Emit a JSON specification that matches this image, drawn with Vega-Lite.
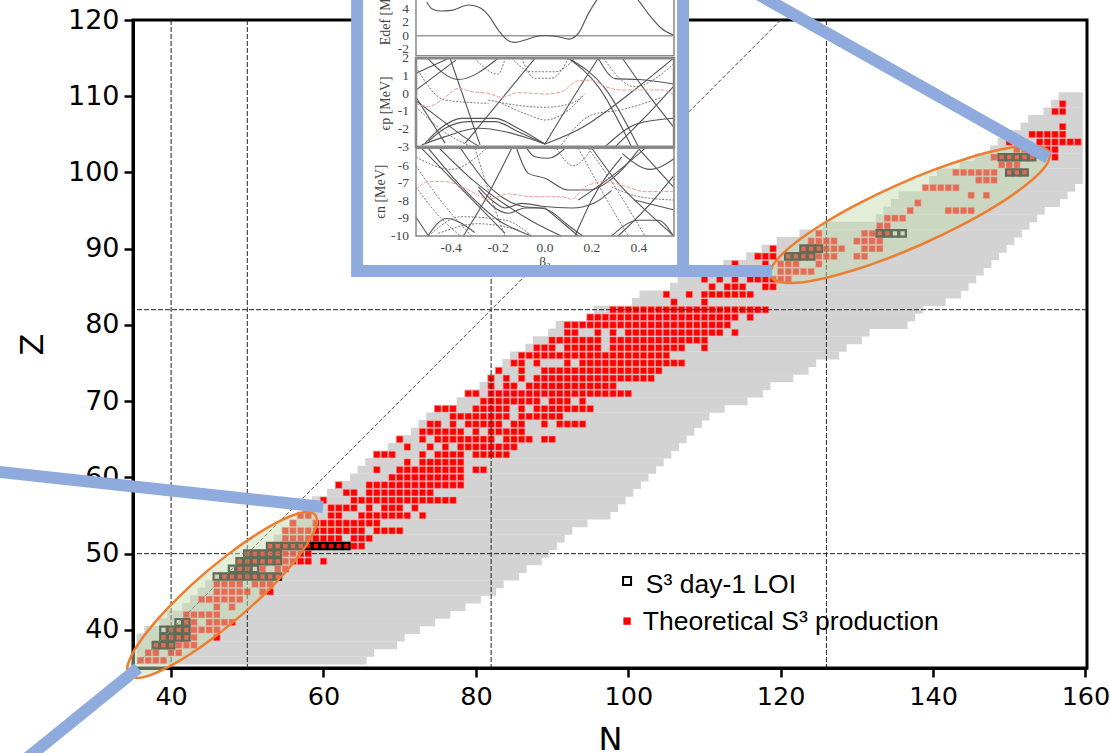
{"$schema":"https://vega.github.io/schema/vega-lite/v6.json","width":954,"height":648,"autosize":{"type":"none"},"padding":{"left":133,"top":20,"right":23,"bottom":85},"background":"white","config":{"view":{"stroke":"black","strokeWidth":3}},
"datasets":{
"band":[{"Z":36,"a":36,"b":65},{"Z":37,"a":36,"b":66},{"Z":38,"a":36,"b":69},{"Z":39,"a":36,"b":70},{"Z":40,"a":37,"b":72},{"Z":41,"a":39,"b":74},{"Z":42,"a":40,"b":76},{"Z":43,"a":42,"b":78},{"Z":44,"a":43,"b":80},{"Z":45,"a":44,"b":82},{"Z":46,"a":45,"b":83},{"Z":47,"a":46,"b":85},{"Z":48,"a":48,"b":86},{"Z":49,"a":49,"b":88},{"Z":50,"a":50,"b":89},{"Z":51,"a":53,"b":90},{"Z":52,"a":54,"b":91},{"Z":53,"a":55,"b":92},{"Z":54,"a":56,"b":94},{"Z":55,"a":57,"b":97},{"Z":56,"a":58,"b":98},{"Z":57,"a":59,"b":99},{"Z":58,"a":61,"b":100},{"Z":59,"a":62,"b":101},{"Z":60,"a":64,"b":102},{"Z":61,"a":65,"b":103},{"Z":62,"a":66,"b":104},{"Z":63,"a":67,"b":105},{"Z":64,"a":69,"b":106},{"Z":65,"a":70,"b":107},{"Z":66,"a":72,"b":108},{"Z":67,"a":73,"b":109},{"Z":68,"a":74,"b":110},{"Z":69,"a":75,"b":112},{"Z":70,"a":78,"b":115},{"Z":71,"a":79,"b":117},{"Z":72,"a":81,"b":118},{"Z":73,"a":82,"b":121},{"Z":74,"a":83,"b":123},{"Z":75,"a":84,"b":124},{"Z":76,"a":85,"b":127},{"Z":77,"a":87,"b":128},{"Z":78,"a":88,"b":130},{"Z":79,"a":90,"b":131},{"Z":80,"a":91,"b":136},{"Z":81,"a":95,"b":137},{"Z":82,"a":96,"b":138},{"Z":83,"a":101,"b":141},{"Z":84,"a":102,"b":143},{"Z":85,"a":106,"b":144},{"Z":86,"a":107,"b":145},{"Z":87,"a":109,"b":146},{"Z":88,"a":113,"b":147},{"Z":89,"a":116,"b":148},{"Z":90,"a":118,"b":149},{"Z":91,"a":120,"b":150},{"Z":92,"a":123,"b":151},{"Z":93,"a":126,"b":152},{"Z":94,"a":133,"b":153},{"Z":95,"a":134,"b":154},{"Z":96,"a":135,"b":156},{"Z":97,"a":136,"b":157},{"Z":98,"a":140,"b":158},{"Z":99,"a":140,"b":159},{"Z":100,"a":141,"b":159},{"Z":101,"a":144,"b":159},{"Z":102,"a":146,"b":159},{"Z":103,"a":148,"b":159},{"Z":104,"a":149,"b":159},{"Z":105,"a":150,"b":159},{"Z":106,"a":152,"b":159},{"Z":107,"a":153,"b":159},{"Z":108,"a":155,"b":159},{"Z":109,"a":156,"b":159},{"Z":110,"a":157,"b":159}],
"red":[
{"N":36,"Z":36},{"N":37,"Z":36},{"N":38,"Z":36},{"N":39,"Z":36},
{"N":37,"Z":37},{"N":38,"Z":37},{"N":40,"Z":37},{"N":41,"Z":37},
{"N":38,"Z":38},{"N":39,"Z":38},{"N":40,"Z":38},{"N":41,"Z":38},{"N":42,"Z":38},{"N":43,"Z":38},
{"N":39,"Z":39},{"N":40,"Z":39},{"N":41,"Z":39},{"N":42,"Z":39},{"N":43,"Z":39},{"N":46,"Z":39},
{"N":40,"Z":40},{"N":41,"Z":40},{"N":42,"Z":40},{"N":43,"Z":40},{"N":44,"Z":40},{"N":45,"Z":40},{"N":46,"Z":40},
{"N":42,"Z":41},{"N":43,"Z":41},{"N":45,"Z":41},{"N":46,"Z":41},{"N":47,"Z":41},{"N":48,"Z":41},
{"N":42,"Z":42},{"N":43,"Z":42},{"N":44,"Z":42},{"N":45,"Z":42},{"N":46,"Z":42},
{"N":46,"Z":43},{"N":48,"Z":43},
{"N":44,"Z":44},{"N":45,"Z":44},{"N":46,"Z":44},{"N":47,"Z":44},{"N":48,"Z":44},{"N":49,"Z":44},
{"N":46,"Z":45},{"N":47,"Z":45},{"N":48,"Z":45},{"N":49,"Z":45},{"N":50,"Z":45},{"N":52,"Z":45},{"N":53,"Z":45},
{"N":46,"Z":46},{"N":47,"Z":46},{"N":48,"Z":46},{"N":49,"Z":46},{"N":51,"Z":46},{"N":52,"Z":46},{"N":53,"Z":46},
{"N":47,"Z":47},{"N":48,"Z":47},{"N":49,"Z":47},{"N":50,"Z":47},{"N":51,"Z":47},{"N":52,"Z":47},{"N":53,"Z":47},{"N":54,"Z":47},
{"N":49,"Z":48},{"N":50,"Z":48},{"N":52,"Z":48},{"N":54,"Z":48},{"N":55,"Z":48},
{"N":49,"Z":49},{"N":50,"Z":49},{"N":51,"Z":49},{"N":52,"Z":49},{"N":53,"Z":49},{"N":54,"Z":49},{"N":55,"Z":49},{"N":56,"Z":49},{"N":57,"Z":49},{"N":58,"Z":49},{"N":60,"Z":49},
{"N":50,"Z":50},{"N":51,"Z":50},{"N":52,"Z":50},{"N":53,"Z":50},{"N":54,"Z":50},{"N":55,"Z":50},{"N":56,"Z":50},{"N":57,"Z":50},{"N":58,"Z":50},
{"N":53,"Z":51},{"N":54,"Z":51},{"N":55,"Z":51},{"N":56,"Z":51},{"N":57,"Z":51},{"N":58,"Z":51},{"N":59,"Z":51},{"N":60,"Z":51},{"N":61,"Z":51},{"N":62,"Z":51},{"N":63,"Z":51},{"N":64,"Z":51},{"N":65,"Z":51},
{"N":55,"Z":52},{"N":56,"Z":52},{"N":57,"Z":52},{"N":58,"Z":52},{"N":59,"Z":52},{"N":60,"Z":52},{"N":61,"Z":52},{"N":62,"Z":52},{"N":64,"Z":52},{"N":65,"Z":52},{"N":66,"Z":52},
{"N":55,"Z":53},{"N":56,"Z":53},{"N":57,"Z":53},{"N":58,"Z":53},{"N":59,"Z":53},{"N":60,"Z":53},{"N":61,"Z":53},{"N":62,"Z":53},{"N":63,"Z":53},{"N":64,"Z":53},{"N":65,"Z":53},{"N":67,"Z":53},{"N":68,"Z":53},{"N":69,"Z":53},{"N":70,"Z":53},
{"N":56,"Z":54},{"N":59,"Z":54},{"N":60,"Z":54},{"N":61,"Z":54},{"N":62,"Z":54},{"N":63,"Z":54},{"N":64,"Z":54},{"N":65,"Z":54},{"N":66,"Z":54},{"N":67,"Z":54},
{"N":57,"Z":55},{"N":58,"Z":55},{"N":61,"Z":55},{"N":62,"Z":55},{"N":65,"Z":55},{"N":66,"Z":55},{"N":67,"Z":55},{"N":68,"Z":55},{"N":69,"Z":55},{"N":70,"Z":55},{"N":71,"Z":55},{"N":73,"Z":55},
{"N":61,"Z":56},{"N":62,"Z":56},{"N":63,"Z":56},{"N":64,"Z":56},{"N":66,"Z":56},{"N":68,"Z":56},{"N":69,"Z":56},{"N":70,"Z":56},{"N":72,"Z":56},
{"N":60,"Z":57},{"N":64,"Z":57},{"N":65,"Z":57},{"N":66,"Z":57},{"N":67,"Z":57},{"N":68,"Z":57},{"N":69,"Z":57},{"N":70,"Z":57},{"N":71,"Z":57},{"N":72,"Z":57},{"N":73,"Z":57},{"N":74,"Z":57},{"N":75,"Z":57},{"N":76,"Z":57},{"N":77,"Z":57},
{"N":63,"Z":58},{"N":64,"Z":58},{"N":66,"Z":58},{"N":67,"Z":58},{"N":68,"Z":58},{"N":69,"Z":58},{"N":70,"Z":58},{"N":71,"Z":58},{"N":72,"Z":58},{"N":73,"Z":58},{"N":74,"Z":58},
{"N":62,"Z":59},{"N":66,"Z":59},{"N":67,"Z":59},{"N":68,"Z":59},{"N":69,"Z":59},{"N":70,"Z":59},{"N":71,"Z":59},{"N":72,"Z":59},{"N":73,"Z":59},{"N":74,"Z":59},{"N":75,"Z":59},{"N":76,"Z":59},{"N":77,"Z":59},{"N":78,"Z":59},
{"N":69,"Z":60},{"N":70,"Z":60},{"N":71,"Z":60},{"N":72,"Z":60},{"N":73,"Z":60},{"N":74,"Z":60},{"N":75,"Z":60},{"N":76,"Z":60},{"N":77,"Z":60},{"N":78,"Z":60},
{"N":67,"Z":61},{"N":70,"Z":61},{"N":71,"Z":61},{"N":72,"Z":61},{"N":73,"Z":61},{"N":74,"Z":61},{"N":75,"Z":61},{"N":76,"Z":61},{"N":77,"Z":61},{"N":78,"Z":61},{"N":80,"Z":61},{"N":81,"Z":61},
{"N":71,"Z":62},{"N":73,"Z":62},{"N":74,"Z":62},{"N":75,"Z":62},{"N":76,"Z":62},{"N":77,"Z":62},{"N":78,"Z":62},
{"N":67,"Z":63},{"N":68,"Z":63},{"N":69,"Z":63},{"N":73,"Z":63},{"N":75,"Z":63},{"N":76,"Z":63},{"N":77,"Z":63},{"N":78,"Z":63},{"N":80,"Z":63},{"N":81,"Z":63},{"N":82,"Z":63},{"N":83,"Z":63},{"N":84,"Z":63},
{"N":71,"Z":64},{"N":74,"Z":64},{"N":76,"Z":64},{"N":78,"Z":64},{"N":79,"Z":64},{"N":80,"Z":64},{"N":81,"Z":64},{"N":82,"Z":64},{"N":83,"Z":64},{"N":84,"Z":64},{"N":85,"Z":64},
{"N":70,"Z":65},{"N":73,"Z":65},{"N":75,"Z":65},{"N":76,"Z":65},{"N":77,"Z":65},{"N":78,"Z":65},{"N":79,"Z":65},{"N":80,"Z":65},{"N":81,"Z":65},{"N":82,"Z":65},{"N":84,"Z":65},{"N":85,"Z":65},{"N":86,"Z":65},{"N":87,"Z":65},{"N":89,"Z":65},{"N":90,"Z":65},
{"N":73,"Z":66},{"N":74,"Z":66},{"N":75,"Z":66},{"N":76,"Z":66},{"N":77,"Z":66},{"N":78,"Z":66},{"N":80,"Z":66},{"N":82,"Z":66},{"N":83,"Z":66},{"N":84,"Z":66},{"N":85,"Z":66},{"N":86,"Z":66},
{"N":74,"Z":67},{"N":75,"Z":67},{"N":77,"Z":67},{"N":79,"Z":67},{"N":80,"Z":67},{"N":81,"Z":67},{"N":82,"Z":67},{"N":83,"Z":67},{"N":85,"Z":67},{"N":86,"Z":67},{"N":89,"Z":67},{"N":91,"Z":67},{"N":92,"Z":67},{"N":93,"Z":67},{"N":94,"Z":67},
{"N":77,"Z":68},{"N":78,"Z":68},{"N":79,"Z":68},{"N":80,"Z":68},{"N":81,"Z":68},{"N":82,"Z":68},{"N":83,"Z":68},{"N":84,"Z":68},{"N":86,"Z":68},{"N":87,"Z":68},{"N":88,"Z":68},{"N":89,"Z":68},{"N":90,"Z":68},{"N":91,"Z":68},
{"N":75,"Z":69},{"N":76,"Z":69},{"N":77,"Z":69},{"N":80,"Z":69},{"N":81,"Z":69},{"N":82,"Z":69},{"N":83,"Z":69},{"N":84,"Z":69},{"N":86,"Z":69},{"N":88,"Z":69},{"N":89,"Z":69},{"N":90,"Z":69},{"N":91,"Z":69},{"N":92,"Z":69},{"N":93,"Z":69},{"N":94,"Z":69},{"N":95,"Z":69},
{"N":81,"Z":70},{"N":82,"Z":70},{"N":83,"Z":70},{"N":84,"Z":70},{"N":85,"Z":70},{"N":86,"Z":70},{"N":87,"Z":70},{"N":88,"Z":70},{"N":90,"Z":70},{"N":91,"Z":70},{"N":92,"Z":70},{"N":94,"Z":70},
{"N":79,"Z":71},{"N":80,"Z":71},{"N":82,"Z":71},{"N":83,"Z":71},{"N":84,"Z":71},{"N":85,"Z":71},{"N":86,"Z":71},{"N":87,"Z":71},{"N":88,"Z":71},{"N":89,"Z":71},{"N":90,"Z":71},{"N":91,"Z":71},{"N":92,"Z":71},{"N":93,"Z":71},{"N":94,"Z":71},{"N":95,"Z":71},{"N":96,"Z":71},{"N":97,"Z":71},{"N":98,"Z":71},{"N":99,"Z":71},{"N":100,"Z":71},
{"N":82,"Z":72},{"N":84,"Z":72},{"N":85,"Z":72},{"N":87,"Z":72},{"N":88,"Z":72},{"N":89,"Z":72},{"N":90,"Z":72},{"N":91,"Z":72},{"N":92,"Z":72},{"N":93,"Z":72},{"N":94,"Z":72},{"N":95,"Z":72},{"N":96,"Z":72},{"N":97,"Z":72},{"N":98,"Z":72},
{"N":82,"Z":73},{"N":84,"Z":73},{"N":86,"Z":73},{"N":88,"Z":73},{"N":89,"Z":73},{"N":90,"Z":73},{"N":91,"Z":73},{"N":92,"Z":73},{"N":93,"Z":73},{"N":94,"Z":73},{"N":95,"Z":73},{"N":96,"Z":73},{"N":97,"Z":73},{"N":98,"Z":73},{"N":99,"Z":73},{"N":100,"Z":73},{"N":101,"Z":73},{"N":102,"Z":73},{"N":103,"Z":73},
{"N":83,"Z":74},{"N":86,"Z":74},{"N":89,"Z":74},{"N":90,"Z":74},{"N":91,"Z":74},{"N":92,"Z":74},{"N":93,"Z":74},{"N":94,"Z":74},{"N":95,"Z":74},{"N":96,"Z":74},{"N":97,"Z":74},{"N":98,"Z":74},{"N":99,"Z":74},{"N":100,"Z":74},{"N":101,"Z":74},{"N":102,"Z":74},{"N":103,"Z":74},{"N":104,"Z":74},
{"N":85,"Z":75},{"N":86,"Z":75},{"N":88,"Z":75},{"N":92,"Z":75},{"N":94,"Z":75},{"N":95,"Z":75},{"N":96,"Z":75},{"N":97,"Z":75},{"N":98,"Z":75},{"N":99,"Z":75},{"N":100,"Z":75},{"N":101,"Z":75},{"N":102,"Z":75},{"N":103,"Z":75},{"N":104,"Z":75},{"N":105,"Z":75},{"N":106,"Z":75},{"N":107,"Z":75},
{"N":86,"Z":76},{"N":87,"Z":76},{"N":88,"Z":76},{"N":89,"Z":76},{"N":90,"Z":76},{"N":91,"Z":76},{"N":92,"Z":76},{"N":93,"Z":76},{"N":94,"Z":76},{"N":95,"Z":76},{"N":96,"Z":76},{"N":97,"Z":76},{"N":98,"Z":76},{"N":99,"Z":76},{"N":100,"Z":76},{"N":101,"Z":76},{"N":102,"Z":76},{"N":103,"Z":76},{"N":104,"Z":76},{"N":105,"Z":76},
{"N":88,"Z":77},{"N":89,"Z":77},{"N":90,"Z":77},{"N":92,"Z":77},{"N":93,"Z":77},{"N":94,"Z":77},{"N":95,"Z":77},{"N":96,"Z":77},{"N":98,"Z":77},{"N":99,"Z":77},{"N":100,"Z":77},{"N":101,"Z":77},{"N":102,"Z":77},{"N":103,"Z":77},{"N":104,"Z":77},{"N":105,"Z":77},{"N":106,"Z":77},{"N":107,"Z":77},{"N":110,"Z":77},
{"N":90,"Z":78},{"N":91,"Z":78},{"N":92,"Z":78},{"N":93,"Z":78},{"N":94,"Z":78},{"N":95,"Z":78},{"N":96,"Z":78},{"N":98,"Z":78},{"N":99,"Z":78},{"N":100,"Z":78},{"N":101,"Z":78},{"N":102,"Z":78},{"N":103,"Z":78},{"N":104,"Z":78},{"N":105,"Z":78},{"N":106,"Z":78},{"N":107,"Z":78},{"N":108,"Z":78},{"N":109,"Z":78},{"N":110,"Z":78},
{"N":92,"Z":79},{"N":93,"Z":79},{"N":96,"Z":79},{"N":98,"Z":79},{"N":100,"Z":79},{"N":101,"Z":79},{"N":102,"Z":79},{"N":103,"Z":79},{"N":104,"Z":79},{"N":105,"Z":79},{"N":106,"Z":79},{"N":107,"Z":79},{"N":108,"Z":79},{"N":109,"Z":79},{"N":110,"Z":79},{"N":111,"Z":79},{"N":112,"Z":79},{"N":114,"Z":79},
{"N":92,"Z":80},{"N":93,"Z":80},{"N":94,"Z":80},{"N":95,"Z":80},{"N":96,"Z":80},{"N":97,"Z":80},{"N":98,"Z":80},{"N":99,"Z":80},{"N":100,"Z":80},{"N":101,"Z":80},{"N":102,"Z":80},{"N":103,"Z":80},{"N":104,"Z":80},{"N":105,"Z":80},{"N":106,"Z":80},{"N":107,"Z":80},{"N":108,"Z":80},{"N":109,"Z":80},{"N":110,"Z":80},{"N":111,"Z":80},{"N":112,"Z":80},{"N":113,"Z":80},
{"N":95,"Z":81},{"N":96,"Z":81},{"N":97,"Z":81},{"N":98,"Z":81},{"N":99,"Z":81},{"N":100,"Z":81},{"N":101,"Z":81},{"N":102,"Z":81},{"N":103,"Z":81},{"N":104,"Z":81},{"N":105,"Z":81},{"N":106,"Z":81},{"N":107,"Z":81},{"N":108,"Z":81},{"N":109,"Z":81},{"N":110,"Z":81},{"N":111,"Z":81},{"N":112,"Z":81},{"N":113,"Z":81},{"N":114,"Z":81},{"N":116,"Z":81},
{"N":98,"Z":82},{"N":99,"Z":82},{"N":100,"Z":82},{"N":101,"Z":82},{"N":102,"Z":82},{"N":103,"Z":82},{"N":104,"Z":82},{"N":105,"Z":82},{"N":106,"Z":82},{"N":107,"Z":82},{"N":108,"Z":82},{"N":109,"Z":82},{"N":110,"Z":82},{"N":111,"Z":82},{"N":112,"Z":82},{"N":113,"Z":82},{"N":114,"Z":82},{"N":115,"Z":82},{"N":116,"Z":82},{"N":117,"Z":82},{"N":118,"Z":82},
{"N":106,"Z":83},{"N":110,"Z":83},
{"N":105,"Z":84},{"N":108,"Z":84},{"N":110,"Z":84},{"N":111,"Z":84},{"N":112,"Z":84},{"N":113,"Z":84},{"N":114,"Z":84},{"N":115,"Z":84},{"N":116,"Z":84},
{"N":111,"Z":85},{"N":113,"Z":85},{"N":114,"Z":85},{"N":115,"Z":85},{"N":118,"Z":85},{"N":119,"Z":85},
{"N":110,"Z":86},{"N":112,"Z":86},{"N":114,"Z":86},{"N":116,"Z":86},{"N":117,"Z":86},{"N":118,"Z":86},{"N":119,"Z":86},{"N":120,"Z":86},{"N":121,"Z":86},
{"N":120,"Z":87},{"N":121,"Z":87},{"N":122,"Z":87},{"N":123,"Z":87},{"N":124,"Z":87},
{"N":114,"Z":88},{"N":118,"Z":88},{"N":120,"Z":88},{"N":121,"Z":88},{"N":122,"Z":88},{"N":125,"Z":88},
{"N":117,"Z":89},{"N":118,"Z":89},{"N":119,"Z":89},{"N":121,"Z":89},{"N":122,"Z":89},{"N":123,"Z":89},{"N":124,"Z":89},{"N":125,"Z":89},{"N":126,"Z":89},{"N":127,"Z":89},{"N":130,"Z":89},{"N":131,"Z":89},
{"N":119,"Z":90},{"N":123,"Z":90},{"N":124,"Z":90},{"N":125,"Z":90},{"N":126,"Z":90},{"N":127,"Z":90},{"N":128,"Z":90},{"N":131,"Z":90},{"N":132,"Z":90},{"N":133,"Z":90},
{"N":124,"Z":91},{"N":125,"Z":91},{"N":126,"Z":91},{"N":127,"Z":91},{"N":130,"Z":91},{"N":131,"Z":91},{"N":132,"Z":91},{"N":133,"Z":91},
{"N":125,"Z":92},{"N":131,"Z":92},{"N":132,"Z":92},{"N":133,"Z":92},{"N":134,"Z":92},
{"N":133,"Z":93},{"N":134,"Z":93},
{"N":134,"Z":94},{"N":135,"Z":94},{"N":136,"Z":94},
{"N":137,"Z":95},{"N":142,"Z":95},{"N":143,"Z":95},{"N":144,"Z":95},{"N":145,"Z":95},
{"N":138,"Z":96},
{"N":145,"Z":97},{"N":147,"Z":97},
{"N":139,"Z":98},{"N":140,"Z":98},{"N":141,"Z":98},{"N":142,"Z":98},{"N":143,"Z":98},
{"N":146,"Z":99},{"N":147,"Z":99},{"N":148,"Z":99},
{"N":143,"Z":100},{"N":144,"Z":100},{"N":145,"Z":100},{"N":146,"Z":100},{"N":147,"Z":100},{"N":148,"Z":100},{"N":150,"Z":100},{"N":151,"Z":100},{"N":152,"Z":100},
{"N":149,"Z":101},{"N":150,"Z":101},{"N":151,"Z":101},
{"N":148,"Z":102},{"N":149,"Z":102},{"N":150,"Z":102},{"N":151,"Z":102},{"N":152,"Z":102},{"N":153,"Z":102},{"N":156,"Z":102},
{"N":151,"Z":103},{"N":152,"Z":103},{"N":155,"Z":103},{"N":156,"Z":103},
{"N":150,"Z":104},{"N":154,"Z":104},{"N":155,"Z":104},{"N":156,"Z":104},{"N":157,"Z":104},{"N":158,"Z":104},{"N":159,"Z":104},
{"N":153,"Z":105},{"N":154,"Z":105},{"N":155,"Z":105},{"N":156,"Z":105},{"N":157,"Z":105},
{"N":157,"Z":106},{"N":156,"Z":108},{"N":157,"Z":108},{"N":157,"Z":109}],
"loi":[{"N":38,"Z":38},{"N":39,"Z":38},{"N":40,"Z":38},{"N":39,"Z":39},{"N":40,"Z":39},{"N":41,"Z":39},{"N":42,"Z":39},{"N":39,"Z":40},{"N":40,"Z":40},{"N":41,"Z":40},{"N":42,"Z":40},{"N":41,"Z":41},{"N":42,"Z":41},
{"N":46,"Z":47},{"N":47,"Z":47},{"N":48,"Z":47},{"N":49,"Z":47},{"N":50,"Z":47},{"N":51,"Z":47},{"N":52,"Z":47},{"N":53,"Z":47},{"N":54,"Z":47},{"N":48,"Z":48},{"N":49,"Z":48},{"N":50,"Z":48},{"N":51,"Z":48},
{"N":49,"Z":49},{"N":50,"Z":49},{"N":51,"Z":49},{"N":52,"Z":49},{"N":53,"Z":49},{"N":54,"Z":49},{"N":50,"Z":50},{"N":51,"Z":50},{"N":52,"Z":50},{"N":53,"Z":50},{"N":54,"Z":50},
{"N":53,"Z":51},{"N":54,"Z":51},{"N":55,"Z":51},{"N":56,"Z":51},{"N":57,"Z":51},{"N":58,"Z":51},{"N":59,"Z":51},{"N":60,"Z":51},{"N":61,"Z":51},{"N":62,"Z":51},{"N":63,"Z":51},
{"N":121,"Z":89},{"N":122,"Z":89},{"N":123,"Z":89},{"N":124,"Z":89},{"N":123,"Z":90},{"N":124,"Z":90},{"N":125,"Z":90},
{"N":133,"Z":92},{"N":134,"Z":92},{"N":135,"Z":92},{"N":136,"Z":92},{"N":150,"Z":100},{"N":151,"Z":100},{"N":152,"Z":100},{"N":149,"Z":102},{"N":150,"Z":102},{"N":151,"Z":102},{"N":152,"Z":102},{"N":153,"Z":102}],
"ellipses":[
{"e":"low","i":0,"N":58.92,"Z":55.09},{"e":"low","i":1,"N":57.88,"Z":55.45},{"e":"low","i":2,"N":56.09,"Z":55.07},{"e":"low","i":3,"N":53.66,"Z":53.97},{"e":"low","i":4,"N":50.75,"Z":52.23},{"e":"low","i":5,"N":47.56,"Z":49.97},{"e":"low","i":6,"N":44.31,"Z":47.34},{"e":"low","i":7,"N":41.22,"Z":44.53},{"e":"low","i":8,"N":38.51,"Z":41.71},{"e":"low","i":9,"N":36.36,"Z":39.09},{"e":"low","i":10,"N":34.91,"Z":36.85},{"e":"low","i":11,"N":34.26,"Z":35.13},{"e":"low","i":12,"N":34.46,"Z":34.05},{"e":"low","i":13,"N":35.5,"Z":33.69},{"e":"low","i":14,"N":37.29,"Z":34.07},{"e":"low","i":15,"N":39.72,"Z":35.17},{"e":"low","i":16,"N":42.63,"Z":36.91},{"e":"low","i":17,"N":45.82,"Z":39.17},{"e":"low","i":18,"N":49.07,"Z":41.8},{"e":"low","i":19,"N":52.16,"Z":44.61},{"e":"low","i":20,"N":54.87,"Z":47.43},{"e":"low","i":21,"N":57.02,"Z":50.05},{"e":"low","i":22,"N":58.47,"Z":52.29},{"e":"low","i":23,"N":59.12,"Z":54.01},
{"e":"high","i":0,"N":155.25,"Z":102.63},{"e":"high","i":1,"N":154.19,"Z":103.35},{"e":"high","i":2,"N":151.95,"Z":103.47},{"e":"high","i":3,"N":148.69,"Z":102.97},{"e":"high","i":4,"N":144.64,"Z":101.9},{"e":"high","i":5,"N":140.06,"Z":100.33},{"e":"high","i":6,"N":135.27,"Z":98.35},{"e":"high","i":7,"N":130.6,"Z":96.11},{"e":"high","i":8,"N":126.37,"Z":93.77},{"e":"high","i":9,"N":122.85,"Z":91.47},{"e":"high","i":10,"N":120.31,"Z":89.39},{"e":"high","i":11,"N":118.89,"Z":87.65},{"e":"high","i":12,"N":118.71,"Z":86.37},{"e":"high","i":13,"N":119.77,"Z":85.65},{"e":"high","i":14,"N":122.01,"Z":85.53},{"e":"high","i":15,"N":125.27,"Z":86.03},{"e":"high","i":16,"N":129.32,"Z":87.1},{"e":"high","i":17,"N":133.9,"Z":88.67},{"e":"high","i":18,"N":138.69,"Z":90.65},{"e":"high","i":19,"N":143.36,"Z":92.89},{"e":"high","i":20,"N":147.59,"Z":95.23},{"e":"high","i":21,"N":151.11,"Z":97.53},{"e":"high","i":22,"N":153.65,"Z":99.61},{"e":"high","i":23,"N":155.07,"Z":101.35}],
"bars":[{"id":"frame","i":0,"N":64.41,"Z":125.28},{"id":"frame","i":1,"N":64.41,"Z":87.09},{"id":"frame","i":2,"N":107.19,"Z":87.09},{"id":"frame","i":3,"N":107.19,"Z":125.28},{"id":"link","i":0,"N":107.19,"Z":87.09},{"id":"link","i":1,"N":118.87,"Z":87.09},{"id":"barA","i":0,"N":16.25,"Z":60.84},{"id":"barA","i":1,"N":59.95,"Z":56.12},{"id":"barB","i":0,"N":35.67,"Z":34.99},{"id":"barB","i":1,"N":16.25,"Z":19.24},{"id":"barC","i":0,"N":115.98,"Z":123.96},{"id":"barC","i":1,"N":155.09,"Z":101.92}],
"panelE":[{"b":-0.55,"e":0,"id":"zero","s":"frame"},{"b":0.55,"e":0,"id":"zero","s":"frame"},
{"b":-0.504,"e":5.05,"id":"E","s":"solid"},{"b":-0.483,"e":4.06,"id":"E","s":"solid"},{"b":-0.447,"e":3.71,"id":"E","s":"solid"},{"b":-0.398,"e":3.81,"id":"E","s":"solid"},{"b":-0.327,"e":4.6,"id":"E","s":"solid"},{"b":-0.284,"e":4.3,"id":"E","s":"solid"},{"b":-0.241,"e":3.07,"id":"E","s":"solid"},{"b":-0.199,"e":0.84,"id":"E","s":"solid"},{"b":-0.156,"e":-0.74,"id":"E","s":"solid"},{"b":-0.128,"e":-0.99,"id":"E","s":"solid"},{"b":-0.085,"e":-0.64,"id":"E","s":"solid"},{"b":-0.043,"e":-0.15,"id":"E","s":"solid"},{"b":0,"e":0.05,"id":"E","s":"solid"},{"b":0.057,"e":-0.15,"id":"E","s":"solid"},{"b":0.102,"e":-0.5,"id":"E","s":"solid"},{"b":0.142,"e":0.35,"id":"E","s":"solid"},{"b":0.185,"e":3.32,"id":"E","s":"solid"},{"b":0.22,"e":5.3,"id":"E","s":"solid"},{"b":0.3,"e":8,"id":"E","s":"solid"},{"b":0.398,"e":5.3,"id":"E","s":"solid"},{"b":0.44,"e":3.32,"id":"E","s":"solid"},{"b":0.497,"e":1.09,"id":"E","s":"solid"},{"b":0.547,"e":0.1,"id":"E","s":"solid"}],
"panelP":[
{"b":-0.551,"e":-0.55,"id":"r","s":"red"},{"b":-0.497,"e":-0.73,"id":"r","s":"red"},{"b":-0.44,"e":-0.36,"id":"r","s":"red"},{"b":-0.369,"e":0.3,"id":"r","s":"red"},{"b":-0.312,"e":0.11,"id":"r","s":"red"},{"b":-0.241,"e":0.02,"id":"r","s":"red"},{"b":-0.185,"e":-0.21,"id":"r","s":"red"},{"b":-0.114,"e":0.06,"id":"r","s":"red"},{"b":0,"e":-0.02,"id":"r","s":"red"},{"b":0.071,"e":0.11,"id":"r","s":"red"},{"b":0.142,"e":0.73,"id":"r","s":"red"},{"b":0.199,"e":0.77,"id":"r","s":"red"},{"b":0.256,"e":0.4,"id":"r","s":"red"},{"b":0.327,"e":0.21,"id":"r","s":"red"},{"b":0.426,"e":0.21,"id":"r","s":"red"},{"b":0.497,"e":0.21,"id":"r","s":"red"},{"b":0.547,"e":-0.04,"id":"r","s":"red"},
{"b":-0.55,"e":-0.2,"id":"s1","s":"solid"},{"b":-0.426,"e":-2.8,"id":"s1","s":"solid"},
{"b":-0.405,"e":2,"id":"s2","s":"solid"},{"b":-0.277,"e":-2.9,"id":"s2","s":"solid"},
{"b":-0.55,"e":0.2,"id":"s3","s":"solid"},{"b":-0.38,"e":1.9,"id":"s3","s":"solid"},
{"b":-0.55,"e":1.15,"id":"s4","s":"solid"},{"b":-0.41,"e":2,"id":"s4","s":"solid"},
{"b":-0.34,"e":-2.8,"id":"s5","s":"solid"},{"b":-0.043,"e":2,"id":"s5","s":"solid"},
{"b":0,"e":-2.85,"id":"s6","s":"solid"},{"b":0.114,"e":-0.36,"id":"s6","s":"solid"},{"b":0.227,"e":2,"id":"s6","s":"solid"},
{"b":-0.511,"e":-2.8,"id":"s7","s":"solid"},{"b":-0.44,"e":-1.9,"id":"s7","s":"solid"},{"b":-0.355,"e":-1.4,"id":"s7","s":"solid"},{"b":-0.213,"e":-1.4,"id":"s7","s":"solid"},{"b":-0.114,"e":-1.97,"id":"s7","s":"solid"},{"b":0,"e":-2.85,"id":"s7","s":"solid"},
{"b":-0.497,"e":-2.7,"id":"s8","s":"solid"},{"b":-0.426,"e":-1.96,"id":"s8","s":"solid"},{"b":-0.327,"e":-1.58,"id":"s8","s":"solid"},{"b":-0.213,"e":-1.58,"id":"s8","s":"solid"},{"b":-0.114,"e":-2.15,"id":"s8","s":"solid"},{"b":0,"e":-2.85,"id":"s8","s":"solid"},
{"b":-0.526,"e":-2.9,"id":"s9","s":"solid"},{"b":-0.426,"e":-2.43,"id":"s9","s":"solid"},{"b":-0.284,"e":-1.96,"id":"s9","s":"solid"},{"b":-0.17,"e":-2.15,"id":"s9","s":"solid"},{"b":-0.071,"e":-2.52,"id":"s9","s":"solid"},{"b":0,"e":-2.85,"id":"s9","s":"solid"},
{"b":0,"e":-2.85,"id":"s10","s":"solid"},{"b":0.17,"e":-1.83,"id":"s10","s":"solid"},{"b":0.27,"e":-0.92,"id":"s10","s":"solid"},{"b":0.38,"e":0.2,"id":"s10","s":"solid"},{"b":0.547,"e":2,"id":"s10","s":"solid"},
{"b":0.1,"e":2,"id":"s11","s":"solid"},{"b":0.227,"e":0.4,"id":"s11","s":"solid"},{"b":0.369,"e":-3,"id":"s11","s":"solid"},
{"b":0.114,"e":1.9,"id":"s12","s":"solid"},{"b":0.256,"e":0.3,"id":"s12","s":"solid"},{"b":0.398,"e":-3,"id":"s12","s":"solid"},
{"b":0.256,"e":-3,"id":"s13","s":"solid"},{"b":0.398,"e":-1.68,"id":"s13","s":"solid"},{"b":0.547,"e":-1.39,"id":"s13","s":"solid"},
{"b":0.33,"e":2,"id":"s14","s":"solid"},{"b":0.426,"e":0.2,"id":"s14","s":"solid"},{"b":0.547,"e":-1.86,"id":"s14","s":"solid"},
{"b":0.227,"e":2,"id":"s15","s":"solid"},{"b":0.3,"e":0.85,"id":"s15","s":"solid"},{"b":0.4,"e":0.8,"id":"s15","s":"solid"},{"b":0.547,"e":0.55,"id":"s15","s":"solid"},
{"b":-0.55,"e":-0.4,"id":"s16","s":"solid"},{"b":-0.45,"e":-1.4,"id":"s16","s":"solid"},{"b":-0.35,"e":-2.4,"id":"s16","s":"solid"},{"b":-0.28,"e":-3,"id":"s16","s":"solid"},
{"b":0.3,"e":-3,"id":"s17","s":"solid"},{"b":0.45,"e":-1,"id":"s17","s":"solid"},{"b":0.547,"e":0.4,"id":"s17","s":"solid"},
{"b":-0.5,"e":2,"id":"s18","s":"solid"},{"b":-0.37,"e":0.8,"id":"s18","s":"solid"},{"b":-0.2,"e":2,"id":"s18","s":"solid"},
{"b":-0.1,"e":2,"id":"d1","s":"dotted"},{"b":-0.043,"e":0.87,"id":"d1","s":"dotted"},{"b":0.028,"e":0.87,"id":"d1","s":"dotted"},{"b":0.1,"e":2,"id":"d1","s":"dotted"},
{"b":-0.142,"e":2,"id":"d2","s":"dotted"},{"b":-0.057,"e":1.24,"id":"d2","s":"dotted"},{"b":0.043,"e":1.24,"id":"d2","s":"dotted"},{"b":0.128,"e":2,"id":"d2","s":"dotted"},
{"b":-0.241,"e":-0.36,"id":"d3","s":"dotted"},{"b":-0.128,"e":-0.64,"id":"d3","s":"dotted"},{"b":0,"e":-0.77,"id":"d3","s":"dotted"},{"b":0.114,"e":-0.55,"id":"d3","s":"dotted"},{"b":0.156,"e":-0.17,"id":"d3","s":"dotted"},
{"b":-0.185,"e":-0.55,"id":"d4","s":"dotted"},{"b":-0.071,"e":-1.2,"id":"d4","s":"dotted"},{"b":0,"e":-1.49,"id":"d4","s":"dotted"},{"b":0.071,"e":-1.2,"id":"d4","s":"dotted"},{"b":0.17,"e":0,"id":"d4","s":"dotted"},
{"b":-0.55,"e":1.5,"id":"d5","s":"dotted"},{"b":-0.426,"e":-0.36,"id":"d5","s":"dotted"},{"b":-0.241,"e":-0.55,"id":"d5","s":"dotted"},
{"b":-0.551,"e":-0.74,"id":"d6","s":"dotted"},{"b":-0.426,"e":-2.2,"id":"d6","s":"dotted"},{"b":-0.313,"e":-3,"id":"d6","s":"dotted"},
{"b":-0.3,"e":2,"id":"d7","s":"dotted"},{"b":-0.2,"e":1.1,"id":"d7","s":"dotted"},{"b":-0.17,"e":2,"id":"d7","s":"dotted"},
{"b":0.07,"e":-2.9,"id":"d8","s":"dotted"},{"b":0.2,"e":-1.2,"id":"d8","s":"dotted"},{"b":0.33,"e":-0.9,"id":"d8","s":"dotted"},{"b":0.5,"e":-0.2,"id":"d8","s":"dotted"},
{"b":0.25,"e":2,"id":"d9","s":"dotted"},{"b":0.38,"e":0.4,"id":"d9","s":"dotted"},{"b":0.55,"e":1.7,"id":"d9","s":"dotted"}],
"panelN":[
{"b":-0.551,"e":-7.38,"id":"r","s":"red"},{"b":-0.497,"e":-6.9,"id":"r","s":"red"},{"b":-0.426,"e":-6.9,"id":"r","s":"red"},{"b":-0.313,"e":-7.47,"id":"r","s":"red"},{"b":-0.241,"e":-7.9,"id":"r","s":"red"},{"b":-0.156,"e":-7.6,"id":"r","s":"red"},{"b":-0.057,"e":-7.76,"id":"r","s":"red"},{"b":0.071,"e":-7.76,"id":"r","s":"red"},{"b":0.114,"e":-7.9,"id":"r","s":"red"},{"b":0.17,"e":-7.2,"id":"r","s":"red"},{"b":0.256,"e":-6.9,"id":"r","s":"red"},{"b":0.327,"e":-7.1,"id":"r","s":"red"},{"b":0.426,"e":-7.47,"id":"r","s":"red"},{"b":0.547,"e":-7.47,"id":"r","s":"red"},
{"b":-0.121,"e":-5,"id":"n1","s":"solid"},{"b":-0.071,"e":-6.43,"id":"n1","s":"solid"},{"b":0,"e":-6.71,"id":"n1","s":"solid"},{"b":0.099,"e":-7.38,"id":"n1","s":"solid"},{"b":0.185,"e":-7.38,"id":"n1","s":"solid"},{"b":0.312,"e":-6.43,"id":"n1","s":"solid"},{"b":0.398,"e":-5.1,"id":"n1","s":"solid"},
{"b":-0.284,"e":-7.2,"id":"n2","s":"solid"},{"b":-0.213,"e":-8.1,"id":"n2","s":"solid"},{"b":-0.17,"e":-8.4,"id":"n2","s":"solid"},{"b":-0.099,"e":-8.14,"id":"n2","s":"solid"},{"b":-0.014,"e":-8.3,"id":"n2","s":"solid"},{"b":0.114,"e":-8.4,"id":"n2","s":"solid"},{"b":0.213,"e":-8.1,"id":"n2","s":"solid"},{"b":0.284,"e":-7.4,"id":"n2","s":"solid"},
{"b":-0.284,"e":-7.4,"id":"n3","s":"solid"},{"b":-0.213,"e":-8.4,"id":"n3","s":"solid"},{"b":-0.156,"e":-8.7,"id":"n3","s":"solid"},{"b":-0.085,"e":-8.4,"id":"n3","s":"solid"},{"b":0,"e":-8.4,"id":"n3","s":"solid"},
{"b":-0.526,"e":-5,"id":"n4","s":"solid"},{"b":-0.284,"e":-8.3,"id":"n4","s":"solid"},{"b":-0.17,"e":-9.85,"id":"n4","s":"solid"},
{"b":-0.497,"e":-5,"id":"n5","s":"solid"},{"b":-0.355,"e":-7.2,"id":"n5","s":"solid"},{"b":-0.199,"e":-9.1,"id":"n5","s":"solid"},{"b":-0.057,"e":-10,"id":"n5","s":"solid"},
{"b":-0.078,"e":-5,"id":"n6","s":"solid"},{"b":-0.043,"e":-5.48,"id":"n6","s":"solid"},{"b":0.014,"e":-5.57,"id":"n6","s":"solid"},{"b":0.085,"e":-5,"id":"n6","s":"solid"},
{"b":0,"e":-8.4,"id":"n7","s":"solid"},{"b":0.142,"e":-10,"id":"n7","s":"solid"},
{"b":0.128,"e":-10,"id":"n8","s":"solid"},{"b":0.199,"e":-7.95,"id":"n8","s":"solid"},{"b":0.327,"e":-5.5,"id":"n8","s":"solid"},
{"b":0.142,"e":-7.95,"id":"n9","s":"solid"},{"b":0.284,"e":-6.6,"id":"n9","s":"solid"},{"b":0.426,"e":-5,"id":"n9","s":"solid"},
{"b":-0.551,"e":-8.9,"id":"n10","s":"solid"},{"b":-0.497,"e":-10,"id":"n10","s":"solid"},
{"b":0.284,"e":-10,"id":"n11","s":"solid"},{"b":0.398,"e":-9.1,"id":"n11","s":"solid"},{"b":0.483,"e":-9.1,"id":"n11","s":"solid"},{"b":0.547,"e":-10,"id":"n11","s":"solid"},
{"b":0.312,"e":-10,"id":"n12","s":"solid"},{"b":0.426,"e":-8.5,"id":"n12","s":"solid"},{"b":0.547,"e":-6.6,"id":"n12","s":"solid"},
{"b":0.398,"e":-5,"id":"n13","s":"solid"},{"b":0.547,"e":-7.2,"id":"n13","s":"solid"},
{"b":0.38,"e":-7.95,"id":"n14","s":"solid"},{"b":0.547,"e":-8.5,"id":"n14","s":"solid"},
{"b":-0.348,"e":-10,"id":"n15","s":"solid"},{"b":-0.256,"e":-7.95,"id":"n15","s":"solid"},{"b":-0.142,"e":-5,"id":"n15","s":"solid"},
{"b":-0.5,"e":-10,"id":"n16","s":"solid"},{"b":-0.42,"e":-9,"id":"n16","s":"solid"},{"b":-0.3,"e":-9.8,"id":"n16","s":"solid"},
{"b":-0.45,"e":-5,"id":"n17","s":"solid"},{"b":-0.3,"e":-6.9,"id":"n17","s":"solid"},{"b":-0.17,"e":-8.2,"id":"n17","s":"solid"},{"b":-0.05,"e":-9.2,"id":"n17","s":"solid"},{"b":0.07,"e":-10,"id":"n17","s":"solid"},
{"b":-0.36,"e":-5,"id":"n18","s":"solid"},{"b":-0.22,"e":-7.4,"id":"n18","s":"solid"},{"b":-0.1,"e":-8.3,"id":"n18","s":"solid"},{"b":0,"e":-8.45,"id":"n18","s":"solid"},{"b":0.1,"e":-9.4,"id":"n18","s":"solid"},{"b":0.16,"e":-10,"id":"n18","s":"solid"},
{"b":0.2,"e":-5,"id":"n19","s":"solid"},{"b":0.3,"e":-6.8,"id":"n19","s":"solid"},{"b":0.45,"e":-8.8,"id":"n19","s":"solid"},{"b":0.55,"e":-10,"id":"n19","s":"solid"},
{"b":0.33,"e":-5.3,"id":"n20","s":"solid"},{"b":0.45,"e":-6.2,"id":"n20","s":"solid"},{"b":0.55,"e":-5.6,"id":"n20","s":"solid"},
{"b":-0.551,"e":-6,"id":"m1","s":"dotted"},{"b":-0.426,"e":-8.3,"id":"m1","s":"dotted"},{"b":-0.313,"e":-10,"id":"m1","s":"dotted"},
{"b":-0.497,"e":-10,"id":"m2","s":"dotted"},{"b":-0.355,"e":-8.9,"id":"m2","s":"dotted"},{"b":-0.17,"e":-9.1,"id":"m2","s":"dotted"},{"b":-0.057,"e":-10,"id":"m2","s":"dotted"},
{"b":-0.455,"e":-9.85,"id":"m3","s":"dotted"},{"b":-0.284,"e":-9.3,"id":"m3","s":"dotted"},{"b":-0.114,"e":-9.65,"id":"m3","s":"dotted"},
{"b":0.142,"e":-5,"id":"m4","s":"dotted"},{"b":0.256,"e":-7.75,"id":"m4","s":"dotted"},{"b":0.355,"e":-10,"id":"m4","s":"dotted"},
{"b":0.185,"e":-5,"id":"m5","s":"dotted"},{"b":0.284,"e":-6.9,"id":"m5","s":"dotted"},{"b":0.426,"e":-10,"id":"m5","s":"dotted"},
{"b":0.284,"e":-7.2,"id":"m6","s":"dotted"},{"b":0.398,"e":-7.75,"id":"m6","s":"dotted"},{"b":0.547,"e":-7.95,"id":"m6","s":"dotted"},
{"b":-0.298,"e":-5,"id":"m7","s":"dotted"},{"b":-0.227,"e":-7.95,"id":"m7","s":"dotted"},{"b":-0.17,"e":-10,"id":"m7","s":"dotted"},
{"b":-0.55,"e":-7.2,"id":"m8","s":"dotted"},{"b":-0.45,"e":-8.9,"id":"m8","s":"dotted"},{"b":-0.36,"e":-10,"id":"m8","s":"dotted"},
{"b":-0.55,"e":-5.5,"id":"m9","s":"dotted"},{"b":-0.4,"e":-6.2,"id":"m9","s":"dotted"},{"b":-0.25,"e":-5,"id":"m9","s":"dotted"},
{"b":0.05,"e":-5,"id":"m10","s":"dotted"},{"b":0.12,"e":-6,"id":"m10","s":"dotted"},{"b":0.2,"e":-5,"id":"m10","s":"dotted"}]
},
"layer":[
{"layer":[
{"data":{"name":"band"},"mark":{"type":"bar","orient":"horizontal","size":8,"xOffset":-4,"x2Offset":5,"color":"#d3d3d3"},"encoding":{"x":{"field":"a","type":"quantitative","scale":{"domain":[35,160.2],"nice":false,"padding":0},"axis":{"title":"N","values":[40,60,80,100,120,140,160],"grid":false,"labelFont":"DejaVu Sans","labelFontSize":25.5,"labelColor":"black","tickSize":9,"tickWidth":2.5,"tickColor":"black","domainColor":"black","domainWidth":3,"labelPadding":7,"titleFont":"DejaVu Sans","titleFontSize":32,"titleFontWeight":"normal","titleColor":"black","titlePadding":15,"labelOverlap":false,"labelFlush":false,"labelBound":false}},"x2":{"field":"b"},"y":{"field":"Z","type":"quantitative","scale":{"domain":[35,120],"nice":false,"padding":0},"axis":{"title":"Z","values":[40,50,60,70,80,90,100,110,120],"grid":false,"labelFont":"DejaVu Sans","labelFontSize":27,"labelColor":"black","tickSize":9,"tickWidth":2.5,"tickColor":"black","domainColor":"black","domainWidth":3,"labelPadding":5,"titleFont":"DejaVu Sans","titleFontSize":32,"titleFontWeight":"normal","titleColor":"black","titlePadding":18,"labelOverlap":false}}}},
{"data":{"name":"red"},"mark":{"type":"square","size":42,"color":"#ff0000","opacity":1,"stroke":"#ff8a8a","strokeWidth":0.5},"encoding":{"x":{"field":"N","type":"quantitative"},"y":{"field":"Z","type":"quantitative"}}},
{"data":{"name":"loi"},"mark":{"type":"square","size":42,"filled":false,"stroke":"#000000","strokeWidth":2.2,"opacity":1},"encoding":{"x":{"field":"N","type":"quantitative"},"y":{"field":"Z","type":"quantitative"}}},
{"data":{"values":[{"N":40},{"N":50},{"N":82},{"N":126}]},"mark":{"type":"rule","color":"#222","strokeWidth":1,"strokeDash":[5,2]},"encoding":{"x":{"field":"N","type":"quantitative"}}},
{"data":{"values":[{"Z":50},{"Z":82}]},"mark":{"type":"rule","color":"#222","strokeWidth":1,"strokeDash":[5,2]},"encoding":{"y":{"field":"Z","type":"quantitative"}}},
{"data":{"values":[{"N":35,"Z":35},{"N":120,"Z":120}]},"mark":{"type":"line","color":"#444","strokeWidth":1,"strokeDash":[4,2]},"encoding":{"x":{"field":"N","type":"quantitative"},"y":{"field":"Z","type":"quantitative"}}},
{"data":{"name":"ellipses"},"mark":{"type":"line","interpolate":"catmull-rom-closed","fill":"#c4dcaf","fillOpacity":0.49,"stroke":"#ed7d31","strokeWidth":2.5},"encoding":{"x":{"field":"N","type":"quantitative"},"y":{"field":"Z","type":"quantitative"},"detail":{"field":"e"},"order":{"field":"i","type":"quantitative"}}},
{"data":{"values":[{"N":99.84,"Z":46.4,"label":"S³ day-1 LOI"}]},"mark":{"type":"square","size":64,"filled":false,"stroke":"#000","strokeWidth":2,"opacity":1},"encoding":{"x":{"field":"N","type":"quantitative"},"y":{"field":"Z","type":"quantitative"}}},
{"data":{"values":[{"N":99.84,"Z":41.15,"label":"Theoretical S³ production"}]},"mark":{"type":"square","size":54,"color":"#ff0000","opacity":1},"encoding":{"x":{"field":"N","type":"quantitative"},"y":{"field":"Z","type":"quantitative"}}},
{"data":{"values":[{"N":102.3,"Z":45.9,"label":"S³ day-1 LOI"},{"N":101.9,"Z":41,"label":"Theoretical S³ production"}]},"mark":{"type":"text","align":"left","baseline":"middle","font":"Liberation Sans","fontSize":26.5,"color":"#000"},"encoding":{"x":{"field":"N","type":"quantitative"},"y":{"field":"Z","type":"quantitative"},"text":{"field":"label"}}},
{"data":{"values":[{"N":64.41,"N2":107.19,"Z":87.09,"Z2":125.28}]},"mark":{"type":"rect","fill":"white"},"encoding":{"x":{"field":"N","type":"quantitative"},"x2":{"field":"N2"},"y":{"field":"Z","type":"quantitative"},"y2":{"field":"Z2"}}}
]},
{"encoding":{"x":{"field":"b","type":"quantitative","scale":{"domain":[-0.55,0.55],"range":[283,541]},"axis":null},"y":{"field":"e","type":"quantitative","scale":{"domain":[-3,9],"range":[35.8,-44.3]},"axis":null}},"layer":[
{"data":{"values":[{"b":-0.55,"b2":0.55,"e":-3,"e2":9}]},"mark":{"type":"rect","fill":"white","fillOpacity":0,"stroke":"#888","strokeWidth":1.5},"encoding":{"x2":{"field":"b2"},"y2":{"field":"e2"}}},
{"data":{"name":"panelE"},"transform":[{"filter":"datum.s === 'frame'"}],"mark":{"type":"line","color":"#999999","strokeWidth":1.5},"encoding":{"detail":{"field":"id"}}},
{"data":{"name":"panelE"},"transform":[{"filter":"datum.s === 'solid'"}],"mark":{"type":"line","color":"#555555","strokeWidth":1.1,"interpolate":"monotone"},"encoding":{"detail":{"field":"id"}}},
{"data":{"values":[{"b":-0.58,"e":4,"t":"4"},{"b":-0.58,"e":2,"t":"2"},{"b":-0.58,"e":0,"t":"0"},{"b":-0.58,"e":-2,"t":"-2"}]},"mark":{"type":"text","align":"right","baseline":"middle","font":"Liberation Serif","fontSize":13.5,"color":"#444"},"encoding":{"text":{"field":"t"}}},
{"data":{"values":[{"b":-0.68,"e":3.66,"t":"Edef [MeV]"}]},"mark":{"type":"text","align":"center","baseline":"middle","angle":270,"font":"Liberation Serif","fontSize":14,"color":"#444"},"encoding":{"text":{"field":"t"}}}
]},
{"encoding":{"x":{"field":"b","type":"quantitative","scale":{"domain":[-0.55,0.55],"range":[283,541]},"axis":null},"y":{"field":"e","type":"quantitative","scale":{"domain":[-3,2],"range":[126.7,38.3]},"axis":null}},"layer":[
{"data":{"name":"panelP"},"transform":[{"filter":"datum.s === 'dotted'"}],"mark":{"type":"line","color":"#777777","strokeWidth":1,"strokeDash":[2,1.5],"interpolate":"monotone"},"encoding":{"detail":{"field":"id"}}},
{"data":{"name":"panelP"},"transform":[{"filter":"datum.s === 'solid'"}],"mark":{"type":"line","color":"#555555","strokeWidth":1.1,"interpolate":"monotone"},"encoding":{"detail":{"field":"id"}}},
{"data":{"name":"panelP"},"transform":[{"filter":"datum.s === 'red'"}],"mark":{"type":"line","color":"#f29a9a","strokeWidth":1,"strokeDash":[4,1.5],"interpolate":"monotone"},"encoding":{"detail":{"field":"id"}}},
{"data":{"values":[{"b":-0.55,"b2":0.55,"e":-3,"e2":2}]},"mark":{"type":"rect","fill":"white","fillOpacity":0,"stroke":"#888","strokeWidth":2.5},"encoding":{"x2":{"field":"b2"},"y2":{"field":"e2"}}},
{"data":{"values":[{"b":-0.58,"e":2,"t":"2"},{"b":-0.58,"e":1,"t":"1"},{"b":-0.58,"e":0,"t":"0"},{"b":-0.58,"e":-1,"t":"-1"},{"b":-0.58,"e":-2,"t":"-2"},{"b":-0.58,"e":-3,"t":"-3"}]},"mark":{"type":"text","align":"right","baseline":"middle","font":"Liberation Serif","fontSize":13.5,"color":"#444"},"encoding":{"text":{"field":"t"}}},
{"data":{"values":[{"b":-0.68,"e":-0.55,"t":"ϵp [MeV]"}]},"mark":{"type":"text","align":"center","baseline":"middle","angle":270,"font":"Liberation Serif","fontSize":14,"color":"#444"},"encoding":{"text":{"field":"t"}}}
]},
{"encoding":{"x":{"field":"b","type":"quantitative","scale":{"domain":[-0.55,0.55],"range":[283,541]},"axis":null},"y":{"field":"e","type":"quantitative","scale":{"domain":[-10,-5],"range":[216,128.3]},"axis":null}},"layer":[
{"data":{"name":"panelN"},"transform":[{"filter":"datum.s === 'dotted'"}],"mark":{"type":"line","color":"#777777","strokeWidth":1,"strokeDash":[2,1.5],"interpolate":"monotone"},"encoding":{"detail":{"field":"id"}}},
{"data":{"name":"panelN"},"transform":[{"filter":"datum.s === 'solid'"}],"mark":{"type":"line","color":"#555555","strokeWidth":1.1,"interpolate":"monotone"},"encoding":{"detail":{"field":"id"}}},
{"data":{"name":"panelN"},"transform":[{"filter":"datum.s === 'red'"}],"mark":{"type":"line","color":"#f29a9a","strokeWidth":1,"strokeDash":[4,1.5],"interpolate":"monotone"},"encoding":{"detail":{"field":"id"}}},
{"data":{"values":[{"b":-0.55,"b2":0.55,"e":-10,"e2":-5}]},"mark":{"type":"rect","fill":"white","fillOpacity":0,"stroke":"#888","strokeWidth":1.5},"encoding":{"x2":{"field":"b2"},"y2":{"field":"e2"}}},
{"data":{"values":[{"b":-0.58,"e":-6,"t":"-6"},{"b":-0.58,"e":-7,"t":"-7"},{"b":-0.58,"e":-8,"t":"-8"},{"b":-0.58,"e":-9,"t":"-9"},{"b":-0.58,"e":-10,"t":"-10"}]},"mark":{"type":"text","align":"right","baseline":"middle","font":"Liberation Serif","fontSize":13.5,"color":"#444"},"encoding":{"text":{"field":"t"}}},
{"data":{"values":[{"b":-0.4,"e":-10.7,"t":"-0.4"},{"b":-0.2,"e":-10.7,"t":"-0.2"},{"b":0,"e":-10.7,"t":"0.0"},{"b":0.2,"e":-10.7,"t":"0.2"},{"b":0.4,"e":-10.7,"t":"0.4"},{"b":0,"e":-11.5,"t":"β₂"}]},"mark":{"type":"text","align":"center","baseline":"middle","font":"Liberation Serif","fontSize":13.5,"color":"#444"},"encoding":{"text":{"field":"t"}}},
{"data":{"values":[{"b":-0.7,"e":-7.47,"t":"ϵn [MeV]"}]},"mark":{"type":"text","align":"center","baseline":"middle","angle":270,"font":"Liberation Serif","fontSize":14,"color":"#444"},"encoding":{"text":{"field":"t"}}}
]},
{"data":{"name":"bars"},"mark":{"type":"line","color":"#8faadc","strokeWidth":12,"strokeCap":"butt","strokeJoin":"miter"},"encoding":{"x":{"field":"N","type":"quantitative","scale":{"domain":[35,160.2],"nice":false},"axis":null},"y":{"field":"Z","type":"quantitative","scale":{"domain":[35,120],"nice":false},"axis":null},"detail":{"field":"id"},"order":{"field":"i","type":"quantitative"}}}
],
"resolve":{"scale":{"x":"independent","y":"independent"}}}
